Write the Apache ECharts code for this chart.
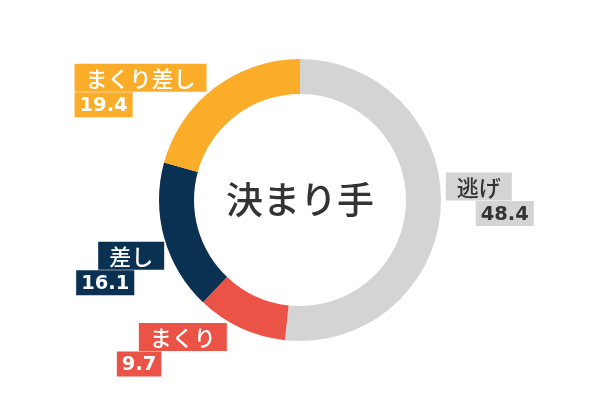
<!DOCTYPE html>
<html>
<head>
<meta charset="utf-8">
<script src="https://cdn.jsdelivr.net/npm/echarts@6/dist/echarts.min.js"></script>
<style>
  html, body { margin: 0; padding: 0; background: #fff; }
  #chart { width: 600px; height: 400px; }
</style>
</head>
<body>
<div id="chart"></div>
<script>
// 決まり手 (winning move) shares
const names = ['逃げ', 'まくり', '差し', 'まくり差し'];
const values = [48.4, 9.7, 16.1, 19.4];
const colors = ['#d4d4d4', '#eb5347', '#0b3152', '#fbad2a'];
const textColors = ['#333333', '#ffffff', '#ffffff', '#ffffff'];
// extra horizontal shift of the value line away from the name line
const valueShift = [22, 22, 22, 0];
// nudges of each label block from its default spot
const labelDx = [5, -14, 0, -8];
const labelDy = [-8, 22, 31, 3];

const total = values.reduce(function (a, b) { return a + b; }, 0);

function isLeftSide(idx) {
    let before = 0;
    for (let i = 0; i < idx; i++) before += values[i];
    const mid = (before + values[idx] / 2) / total;
    return mid > 0.5;
}

const data = names.map(function (name, i) {
    const left = isLeftSide(i);
    return {
        name: name,
        value: values[i],
        itemStyle: { color: colors[i] },
        label: {
            rich: {
                n: {
                    backgroundColor: colors[i],
                    color: textColors[i],
                    align: left ? 'right' : 'left'
                },
                v: {
                    backgroundColor: colors[i],
                    color: textColors[i],
                    align: left ? 'left' : 'right'
                },
                s: { width: valueShift[i] }
            }
        }
    };
});

const chart = echarts.init(document.getElementById('chart'));
chart.setOption({
    animation: false,
    title: {
        text: '決まり手',
        left: 'center',
        top: 'middle',
        textStyle: {
            fontFamily: 'Noto Sans CJK JP',
            fontSize: 37,
            fontWeight: 500,
            color: '#333333'
        }
    },
    series: [{
        type: 'pie',
        radius: ['53%', '70.5%'],
        center: ['50%', '50%'],
        startAngle: 90,
        clockwise: true,
        silent: true,
        data: data,
        labelLine: { show: false, length: 0, length2: 0 },
        label: {
            show: true,
            position: 'outside',
            distanceToLabelLine: 0,
            formatter: function (p) {
                if (isLeftSide(p.dataIndex)) {
                    return '{s| }{n|' + p.name + '}\n{v|' + p.value + '}';
                }
                return '{n|' + p.name + '}{s| }\n{v|' + p.value + '}';
            },
            rich: {
                n: {
                    fontFamily: 'Noto Sans CJK JP',
                    fontSize: 22,
                    fontWeight: 500,
                    lineHeight: 28,
                    height: 26,
                    padding: [2, 11, 0, 11]
                },
                v: {
                    fontFamily: 'DejaVu Sans',
                    fontSize: 19.5,
                    fontWeight: 'bold',
                    lineHeight: 26,
                    height: 23,
                    padding: [2, 5, 0, 5]
                },
                s: { width: 22 }
            }
        },
        labelLayout: function (params) {
            return { dx: labelDx[params.dataIndex], dy: labelDy[params.dataIndex] };
        }
    }]
});
</script>
</body>
</html>
